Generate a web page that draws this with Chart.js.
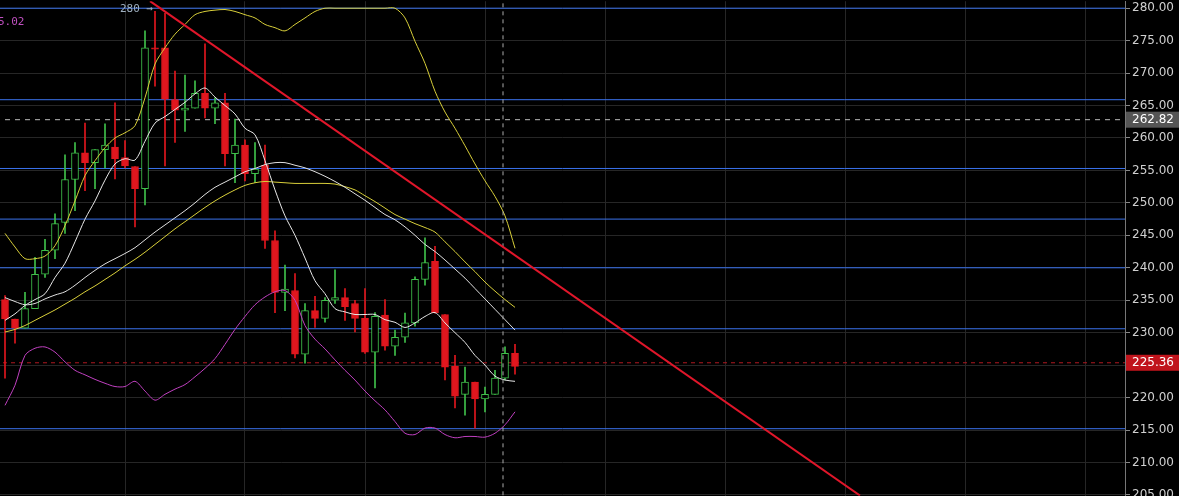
<!DOCTYPE html>
<html><head><meta charset="utf-8">
<script src="https://cdn.jsdelivr.net/npm/chart.js@4.4.0/dist/chart.umd.min.js"></script>
<style>html,body{margin:0;padding:0;background:#000;overflow:hidden;height:496px;}#w{width:1179px;height:513px;margin-top:-8px;}</style>
</head><body><div id="w"><canvas id="c"></canvas></div>
<script>
const opens =[235.1,232.1,230.7,233.7,239.0,242.7,247.0,253.6,257.7,256.2,258.2,258.6,257.0,255.6,252.2,273.9,273.9,265.9,264.3,264.6,266.9,264.6,265.4,257.6,258.9,254.5,255.8,244.2,236.2,236.5,226.7,233.4,232.2,235.0,235.4,234.5,232.2,227.0,232.7,227.9,229.3,231.5,238.2,241.0,232.8,224.8,220.5,222.4,219.8,220.5,223.0,226.8];
const closes=[232.1,230.7,233.7,239.0,242.7,246.8,253.6,257.7,256.2,258.2,258.9,256.8,255.7,252.2,273.9,273.7,266.0,264.3,264.6,266.9,264.6,265.4,257.6,258.9,254.5,255.2,244.2,236.2,236.7,226.7,233.4,232.2,235.0,235.4,234.0,232.2,227.0,232.5,227.9,229.3,231.5,238.2,240.8,233.1,224.7,220.2,222.4,219.8,220.5,223.0,226.8,224.8];
const highs =[235.7,232.1,236.2,241.6,244.4,248.3,257.4,259.3,262.3,258.2,262.2,265.4,259.6,255.6,276.5,279.5,279.2,270.3,269.7,268.8,274.5,266.2,266.9,262.9,259.7,259.3,258.9,245.7,240.4,239.1,234.5,235.6,235.4,239.7,236.8,235.0,236.8,233.1,235.1,230.4,233.0,238.6,244.6,243.3,232.8,226.5,224.7,222.4,221.6,224.2,227.8,228.2];
const lows  =[223.0,228.4,230.7,233.7,238.5,241.4,245.3,248.8,251.9,252.2,255.4,253.7,255.4,246.3,249.7,268.0,255.7,259.3,261.0,264.6,263.1,262.2,255.7,253.1,253.4,253.1,243.0,233.1,233.4,226.1,225.3,230.8,231.6,234.5,231.9,230.1,226.8,221.5,227.3,226.5,228.5,231.0,237.3,233.0,222.7,218.4,217.3,215.3,217.8,220.5,222.7,223.6];
const bbUpper=[245.3,243.2,241.4,241.4,241.8,243.4,246.5,250.3,254.2,256.5,258.5,260,260.8,261.9,266.2,271.4,273.9,276,277.5,279,279.5,279.7,279.8,279.5,279,278.5,277.5,277,276.5,277.5,278.5,279.5,280,280,280,280,280,280,280,280,278.5,274.9,271.5,267.2,264,261.5,258.8,256,253.4,251,248,243];
const bbLower=[218.8,221.9,226.5,227.6,227.8,227,225.5,224.2,223.5,222.8,222.2,221.7,221.7,222.5,221,219.6,220.5,221.3,222,223.2,224.5,226,228.2,230.5,232.5,234.3,235.5,236.3,236.5,235,231.1,229,227.5,225.8,224.2,222.7,221,219.5,218.1,216.3,214.5,214.3,215.3,215.3,214.3,213.8,214,214,213.9,214.5,215.8,217.8];
const maFast=[231.9,232.9,234.2,235.1,236,238.5,240.7,244,247.5,250.3,253.5,256,256.8,256.6,259.5,262.3,263.3,264.4,265.5,266.8,267.7,266.3,265,263.7,261.5,260.5,256.5,252,248,245,241.5,238,236,233.7,233.2,232.8,232.8,232.8,232,231.6,230.8,231.5,232.5,233.1,231.5,230,228.5,226.5,225,223.3,222.7,222.5];
const maSlow=[235.4,234.8,234.3,234.5,235.2,235.8,236.3,237.3,238.5,239.6,240.6,241.4,242.2,243.1,244.3,245.5,246.6,247.7,248.8,250,251.3,252.4,253.2,254,254.8,255.3,255.9,256.2,256.2,255.8,255.4,254.8,254.1,253.3,252.4,251.4,250.4,249.3,248.2,247.4,246.3,245,243.6,242.5,241.2,239.8,238.4,236.8,235.2,233.6,232,230.4];
const maYellow=[230.1,230.5,231.1,231.9,232.7,233.5,234.4,235.3,236.3,237.2,238.2,239.2,240.3,241.3,242.4,243.6,244.8,246,247.1,248.2,249.3,250.3,251.2,252,252.7,253.1,253.3,253.2,253.1,253,253,253,253,252.9,252.5,252,251.1,250.2,249.2,248.2,247.5,246.8,246.2,245.5,244,242.5,240.9,239.4,237.8,236.4,235.1,233.9];
const levels=[280,265.9,255.3,247.5,240,230.6,215.2];
const trendX=[14.5,85.5], trendY=[281.1,204.9];
const lastPrice=225.36, markPrice=262.82;
const yTicks=[205,210,215,220,225,230,235,240,245,250,255,260,265,270,275,280];

const G='#3fbf4a', R='#e0161e';
const idx=opens.map((_,i)=>i);
const up=idx.map(i=>closes[i]>=opens[i]);
const D=[];
levels.forEach(l=>D.push({type:'line',data:[{x:-1,y:l},{x:120,y:l}],borderColor:'#3a72ec',borderWidth:1,pointRadius:0,order:9}));
D.push({type:'line',data:[{x:-1,y:markPrice},{x:120,y:markPrice}],borderColor:'#bbbbbb',borderDash:[5,5],borderWidth:1,pointRadius:0,order:9});
D.push({type:'line',data:[{x:-1,y:lastPrice},{x:120,y:lastPrice}],borderColor:'#b01820',borderDash:[4,4],borderWidth:1,pointRadius:0,order:9});
D.push({type:'bar',data:idx.map(i=>({x:i,y:[lows[i],highs[i]]})),backgroundColor:idx.map(i=>up[i]?G:R),barThickness:1,grouped:false,order:5});
D.push({type:'bar',data:idx.map(i=>({x:i,y:[opens[i],closes[i]]})),backgroundColor:idx.map(i=>up[i]?'#000':R),borderColor:idx.map(i=>up[i]?G:R),borderWidth:1,borderSkipped:false,barThickness:7,grouped:false,order:4,minBarLength:1});
const ln=(arr,c)=>({type:'line',data:idx.map(i=>({x:i,y:arr[i]})),borderColor:c,borderWidth:1,pointRadius:0,tension:0.3,order:2});
D.push(ln(bbUpper,'#d8cf3a'),ln(bbLower,'#c040c0'),ln(maFast,'#e8e8e8'),ln(maSlow,'#e0e0e0'),ln(maYellow,'#d8cf3a'));
D.push({type:'line',data:trendX.map((x,k)=>({x,y:trendY[k]})),borderColor:'#e0162a',borderWidth:2,pointRadius:0,order:1});
D.push({type:'line',data:[{x:49.8,y:200},{x:49.8,y:290}],borderColor:'#aaaaaa',borderDash:[4,4],borderWidth:1,pointRadius:0,order:1});

const deco={id:'deco',afterDraw(ch){
  const c=ch.ctx,y=ch.scales.y,a=ch.chartArea;
  c.save();c.font='12px "DejaVu Sans"';c.textBaseline='middle';
  [[markPrice,'#555555'],[lastPrice,'#c0141c']].forEach(([v,col])=>{
    const py=y.getPixelForValue(v);c.fillStyle=col;c.fillRect(a.right+1,py-8,54,16);
    c.fillStyle='#fff';c.textAlign='left';c.fillText(v.toFixed(2),a.right+7,py);});
  c.font='11px "DejaVu Sans Mono"';c.fillStyle='#9fb0c0';c.textAlign='left';
  c.fillText('280 →',120,a.top+8);
  c.fillStyle='#c050c0';c.fillText('5.02',-2,a.top+21);
  c.restore();}};

new Chart(document.getElementById('c'),{data:{datasets:D},plugins:[deco],
options:{responsive:true,maintainAspectRatio:false,animation:false,
layout:{padding:0},
plugins:{legend:{display:false},tooltip:{enabled:false}},
scales:{
 x:{type:'linear',min:-0.5,max:112,display:true,offset:false,
   afterBuildTicks:s=>{s.ticks=[12,24,36,48,60,72,84,96,108].map(v=>({value:v}));},
   afterFit:s=>{s.height=0;},
   grid:{color:'#262626',drawTicks:false,offset:false},ticks:{display:false,padding:0},border:{display:false}},
 y:{position:'right',min:204.86,max:281.08,
   afterBuildTicks:s=>{s.ticks=yTicks.map(v=>({value:v}));},
   grid:{color:'#262626',tickColor:'#888',tickLength:5},
   border:{color:'#777'},
   afterFit:s=>{s.width=54;},
   ticks:{color:'#d0d0d0',font:{size:12,family:'DejaVu Sans'},padding:2,callback:v=>v.toFixed(2)}}
}}});
</script></body></html>
